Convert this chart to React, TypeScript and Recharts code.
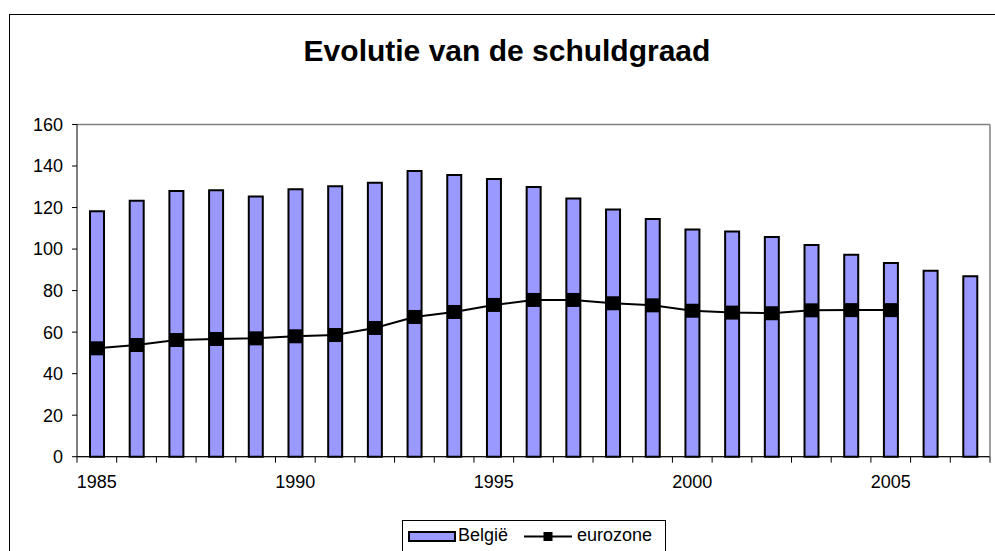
import React from "react";
import {
  ComposedChart,
  Bar,
  Line,
  XAxis,
  YAxis,
  CartesianGrid,
  ReferenceLine,
  Legend,
} from "recharts";

const YEARS = [
  "1985", "1986", "1987", "1988", "1989", "1990", "1991", "1992",
  "1993", "1994", "1995", "1996", "1997", "1998", "1999", "2000",
  "2001", "2002", "2003", "2004", "2005", "2006", "2007",
];
const BELGIE = [
  118.2, 123.3, 128.0, 128.3, 125.3, 128.8, 130.2, 132.0, 137.6, 135.7, 133.8, 129.9,
  124.4, 119.1, 114.5, 109.4, 108.5, 105.8, 102.0, 97.3, 93.3, 89.6, 86.9,
];
const EUROZONE: (number | null)[] = [
  52.2, 53.8, 56.2, 56.7, 57.0, 58.0, 58.6, 62.0, 67.3, 69.7, 73.1, 75.5,
  75.5, 73.9, 72.9, 70.3, 69.4, 69.1, 70.5, 70.6, 70.6, null, null,
];
const X_LABELS = ["1985", "1990", "1995", "2000", "2005"];
const Y_TICKS = [0, 20, 40, 60, 80, 100, 120, 140, 160];

const data = YEARS.map((year, i) => ({ year, belgie: BELGIE[i], eurozone: EUROZONE[i] }));

const FONT = "'Liberation Sans', Arial, sans-serif";
const C = {
  bar: "#9999FF",
  ink: "#000000",
  grid: "#333333",
  frame: "#808080",
} as const;

// tick marks sit on the band edges, labels on the band centres
function YearTick(props: any) {
  const { x, y, payload, index, visibleTicksCount, width } = props;
  const half = payload?.offset || (width && visibleTicksCount ? width / (2 * visibleTicksCount) : 0);
  const show = X_LABELS.includes(String(payload.value));
  return (
    <g>
      <line x1={x - half} x2={x - half} y1={y} y2={y + 6} stroke={C.ink} strokeWidth={1} />
      {index === visibleTicksCount - 1 && (
        <line x1={x + half} x2={x + half} y1={y} y2={y + 6} stroke={C.ink} strokeWidth={1} />
      )}
      {show && (
        <text x={x} y={y + 31} textAnchor="middle" fontFamily={FONT} fontSize={18} fill={C.ink}>
          {payload.value}
        </text>
      )}
    </g>
  );
}

function SquareDot(props: any) {
  const { cx, cy, value } = props;
  if (value == null || cy == null) return null;
  return <rect x={cx - 7} y={cy - 7} width={14} height={14} fill={C.ink} />;
}

function LegendBox(props: any) {
  const payload = props.payload ?? [];
  const barItem = payload.find((p: any) => p.dataKey === "belgie");
  const lineItem = payload.find((p: any) => p.dataKey === "eurozone");
  return (
    <div style={{ width: 264, height: 40, border: "1px solid #000", background: "#fff", boxSizing: "border-box" }}>
      <svg width={264} height={40} style={{ display: "block", marginLeft: -1, marginTop: -1 }}>
        <rect x={7} y={12} width={46} height={9} fill={C.bar} stroke={C.ink} strokeWidth={2} />
        <text x={56} y={20.5} fontFamily={FONT} fontSize={18} fill={C.ink}>
          {barItem?.value ?? "België"}
        </text>
        <line x1={122} x2={170} y1={16.5} y2={16.5} stroke={C.ink} strokeWidth={2} />
        <rect x={141.5} y={12} width={9} height={9} fill={C.ink} />
        <text x={175} y={20.5} fontFamily={FONT} fontSize={18} fill={C.ink}>
          {lineItem?.value ?? "eurozone"}
        </text>
      </svg>
    </div>
  );
}

export default function App() {
  return (
    <div style={{ position: "fixed", left: 0, top: 0, width: 995, height: 551, overflow: "hidden", background: "#fff" }}>
      <div
        style={{
          position: "absolute",
          left: 9,
          top: 14,
          width: 1000,
          height: 600,
          border: "1px solid #000",
          boxSizing: "border-box",
        }}
      />
      <svg width={995} height={80} style={{ position: "absolute", left: 0, top: 0 }}>
        <text x={507} y={61} textAnchor="middle" fontFamily={FONT} fontWeight="bold" fontSize={30} fill={C.ink}>
          Evolutie van de schuldgraad
        </text>
      </svg>
      <div style={{ position: "absolute", left: 0, top: 0 }}>
        <ComposedChart
          width={995}
          height={551}
          data={data}
          margin={{ top: 124.5, right: 0, bottom: 54.3, left: 0 }}
          barCategoryGap={0}
        >
          <CartesianGrid stroke={C.grid} vertical={false} />
          <XAxis
            dataKey="year"
            height={40}
            interval={0}
            tickSize={0}
            tickMargin={0}
            tickLine={false}
            axisLine={{ stroke: C.ink, strokeWidth: 1 }}
            tick={<YearTick />}
          />
          <YAxis
            yAxisId="l"
            width={77}
            domain={[0, 160]}
            ticks={Y_TICKS}
            interval={0}
            tickSize={5}
            tickMargin={9}
            tickLine={{ stroke: C.ink }}
            axisLine={{ stroke: C.ink }}
            tick={{ fontFamily: FONT, fontSize: 18, fill: C.ink }}
          />
          <YAxis
            yAxisId="r"
            orientation="right"
            width={5}
            domain={[0, 160]}
            ticks={Y_TICKS}
            tick={false}
            tickLine={false}
            axisLine={{ stroke: C.frame, strokeWidth: 1.5 }}
          />
          <ReferenceLine yAxisId="l" y={160} stroke={C.frame} strokeWidth={1.5} />
          <Bar
            yAxisId="l"
            dataKey="belgie"
            name="België"
            fill={C.bar}
            stroke={C.ink}
            strokeWidth={2}
            barSize={14}
            isAnimationActive={false}
          />
          <Line
            yAxisId="l"
            type="linear"
            dataKey="eurozone"
            name="eurozone"
            stroke={C.ink}
            strokeWidth={2}
            dot={<SquareDot />}
            activeDot={false}
            isAnimationActive={false}
          />
          <Legend
            layout="vertical"
            align="center"
            verticalAlign="middle"
            wrapperStyle={{ left: 402, top: 520, width: 264, height: 40 }}
            content={<LegendBox />}
          />
        </ComposedChart>
      </div>
    </div>
  );
}
